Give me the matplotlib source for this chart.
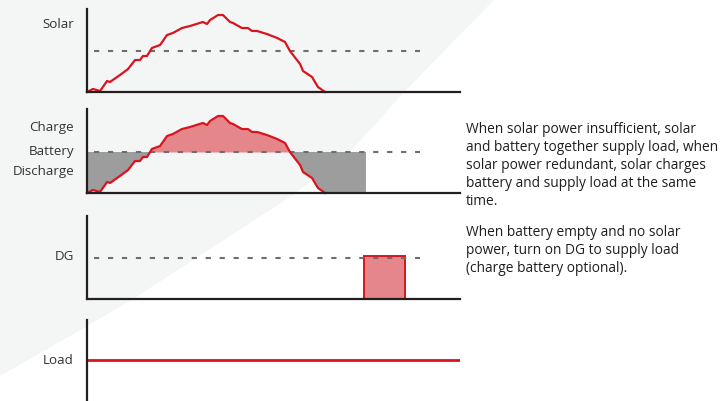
import numpy as np
import matplotlib
matplotlib.use("Agg")
import matplotlib.pyplot as plt
from matplotlib.patches import Polygon

plt.rcParams['font.family'] = ['Open Sans', 'DejaVu Sans']

W, H = 722, 402

# solar output over the day (hours from sunrise, kW)
solar_t = [0.0, 0.39, 0.84, 1.29, 1.48, 2.12, 2.64, 3.09, 3.41, 3.60, 3.86, 4.18, 4.70,
           5.15, 5.53, 6.11, 6.63, 7.46, 7.72, 7.92, 8.43, 8.75, 9.20, 9.40, 9.97, 10.36,
           10.62, 10.94, 11.58, 12.23, 12.74, 13.06, 13.71, 13.90, 14.48, 14.86, 15.32]
solar_p = [0.0, 0.37, 0.12, 1.34, 1.22, 2.07, 2.80, 3.90, 3.90, 4.39, 4.39, 5.37, 5.73,
           6.95, 7.20, 7.80, 8.05, 8.54, 8.29, 8.78, 9.39, 9.39, 8.54, 8.41, 7.80, 7.80,
           7.44, 7.44, 7.07, 6.59, 6.10, 5.00, 3.41, 2.56, 1.83, 0.61, 0.0]
load_kw = 5.0
battery_end = 17.95       # battery runs out
dg_on, dg_off = 17.82, 20.46
ref_start, ref_end = 0.45, 21.43   # dashed load reference
t_max = 24.0

labels = ["Solar", "Charge", "Battery", "Discharge", "DG", "Load"]
note1 = ["When solar power insufficient, solar",
         "and battery together supply load, when",
         "solar power redundant, solar charges",
         "battery and supply load at the same",
         "time."]
note2 = ["When battery empty and no solar",
         "power, turn on DG to supply load",
         "(charge battery optional)."]

RED = '#d9141f'
PINK = '#e5868b'
GREY_FILL = '#9d9d9d'
DASH = '#6e6e6e'
AXC = '#231f20'
TXT = '#333333'

fig = plt.figure(figsize=(W / 100, H / 100), dpi=100)

# light grey backdrop shape, behind everything
bg = [(0, 0), (495, 0), (407, 90), (350, 153), (287, 200), (133, 300), (77, 333), (0, 377)]
bg_ax = fig.add_axes([0, 0, 1, 1], zorder=-5)
bg_ax.set_xlim(0, W)
bg_ax.set_ylim(H, 0)
bg_ax.axis('off')
bg_ax.add_patch(Polygon(bg, closed=True, facecolor='#f4f5f5', edgecolor='none'))


def panel(top, bottom, bottom_spine=True):
    ax = fig.add_axes([87 / W, 1 - bottom / H, (460 - 87) / W, (bottom - top) / H])
    ax.set_xlim(0, t_max)
    ax.set_ylim(0, (bottom - top) / 8.2)
    ax.patch.set_alpha(0)
    for s in ['top', 'right']:
        ax.spines[s].set_visible(False)
    ax.spines['left'].set_color(AXC)
    ax.spines['left'].set_linewidth(1.6)
    ax.spines['bottom'].set_color(AXC)
    ax.spines['bottom'].set_linewidth(1.6)
    ax.spines['bottom'].set_visible(bottom_spine)
    ax.set_xticks([])
    ax.set_yticks([])
    return ax


def ref_line(ax):
    ax.plot([ref_start, ref_end], [load_kw, load_kw], color=DASH, lw=1.5,
            dashes=(2.5, 4.2), solid_capstyle='butt', dash_capstyle='butt')


# Solar
ax1 = panel(10, 93)
ref_line(ax1)
ax1.plot(solar_t, solar_p, color=RED, lw=1.6, clip_on=False)

# Battery
ax2 = panel(110, 194)
tg = np.linspace(0, battery_end, 800)
sg = np.interp(tg, solar_t, solar_p, right=0)
ax2.fill_between(tg, sg, load_kw, where=sg < load_kw, interpolate=True,
                 color=GREY_FILL, lw=0)
ax2.fill_between(tg, sg, load_kw, where=sg > load_kw, interpolate=True,
                 color=PINK, lw=0)
ref_line(ax2)
ax2.plot(solar_t, solar_p, color=RED, lw=1.6, clip_on=False)

# DG
ax3 = panel(217, 300)
ref_line(ax3)
ax3.bar(dg_on, load_kw * 1.05, width=dg_off - dg_on, align='edge',
        color=PINK, edgecolor=RED, lw=1.4)

# Load
ax4 = panel(321, 402, bottom_spine=False)
ax4.plot([0, t_max], [load_kw, load_kw], color=RED, lw=2.0)

# y labels
label_y = [25, 128, 152, 172, 257, 361]
for lab, y in zip(labels, label_y):
    fig.text(74 / W, 1 - y / H, lab, ha='right', va='center', fontsize=9.6, color=TXT)

for i, line in enumerate(note1):
    fig.text(466 / W, 1 - (130 + i * 17.8) / H, line, ha='left', va='center',
             fontsize=9.9, color='#1e1e1e')
for i, line in enumerate(note2):
    fig.text(466 / W, 1 - (233 + i * 17.8) / H, line, ha='left', va='center',
             fontsize=9.9, color='#1e1e1e')

fig.savefig('out.png', dpi=100)
